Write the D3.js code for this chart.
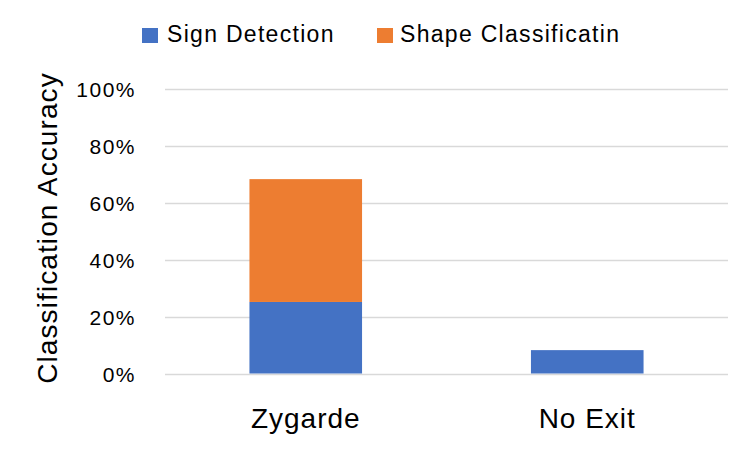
<!DOCTYPE html>
<html>
<head>
<meta charset="utf-8">
<script src="https://cdn.jsdelivr.net/npm/d3@7"></script>
<style>
  html, body { margin: 0; padding: 0; background: #fff; }
  text { font-family: "Liberation Sans", Arial, sans-serif; fill: #000; }
</style>
</head>
<body>
<svg id="chart" width="750" height="450"></svg>
<script>
const categories = ["Zygarde", "No Exit"];
const seriesNames = ["Sign Detection", "Shape Classificatin"];
const signDetection = [0.251, 0.082];
const shapeClassification = [0.431, 0];
const yTicks = [0, 0.2, 0.4, 0.6, 0.8, 1.0];
const colors = ["#4472C4", "#ED7D31"];

const svg = d3.select("#chart");
const margin = { left: 165, right: 22, top: 88.5, bottom: 76.5 };
const W = 750, H = 450;

const x = d3.scaleBand().domain(categories)
  .range([margin.left, W - margin.right])
  .paddingInner(0.6).paddingOuter(0.3);
const y = d3.scaleLinear().domain([0, 1]).range([H - margin.bottom, margin.top]);

// gridlines
svg.append("g").selectAll("line").data(yTicks).join("line")
  .attr("x1", margin.left).attr("x2", W - margin.right)
  .attr("y1", d => Math.round(y(d)) + 0.5).attr("y2", d => Math.round(y(d)) + 0.5)
  .attr("stroke", "#d9d9d9").attr("stroke-width", 1.3);

// y axis labels
const yAxis = d3.axisLeft(y).tickValues(yTicks).tickFormat(d3.format(".0%")).tickSize(0).tickPadding(0);
const ya = svg.append("g").attr("transform", `translate(${margin.left - 29},0)`).call(yAxis);
ya.select(".domain").remove();
ya.selectAll("text").attr("font-size", 21).attr("letter-spacing", 1.5)
  .attr("font-family", "Liberation Sans, Arial, sans-serif").attr("fill", "#000")
  .attr("dy", "0.36em");

// stacked data
const rows = categories.map((c, i) => ({ cat: c, s0: signDetection[i], s1: shapeClassification[i] }));
const stack = d3.stack().keys(["s0", "s1"]);
const stacked = stack(rows);

svg.append("g").selectAll("g").data(stacked).join("g")
  .attr("fill", (d, i) => colors[i])
  .selectAll("rect").data(d => d).join("rect")
  .attr("x", d => x(d.data.cat))
  .attr("width", x.bandwidth())
  .attr("y", d => y(d[1]))
  .attr("height", d => Math.max(0, y(d[0]) - y(d[1])));

// x labels
const xAxis = d3.axisBottom(x).tickSize(0).tickPadding(0);
const xa = svg.append("g").attr("transform", `translate(0,428)`).call(xAxis);
xa.select(".domain").remove();
xa.selectAll("text").attr("font-size", 28).attr("letter-spacing", 1)
  .attr("font-family", "Liberation Sans, Arial, sans-serif").attr("fill", "#000")
  .attr("dy", 0);

// y title
svg.append("text")
  .attr("transform", `translate(57,228) rotate(-90)`)
  .attr("text-anchor", "middle")
  .attr("font-size", 28).attr("letter-spacing", 1.1)
  .text("Classification Accuracy");

// legend
const legendX = [142, 377];
const lg = svg.append("g").selectAll("g").data(seriesNames).join("g")
  .attr("transform", (d, i) => `translate(${legendX[i]},28)`);
lg.append("rect").attr("width", 16).attr("height", 15).attr("fill", (d, i) => colors[i]);
lg.append("text").attr("x", (d, i) => i === 0 ? 25 : 23).attr("y", 14)
  .attr("font-size", 23).attr("letter-spacing", 1.3).text(d => d);
</script>
</body>
</html>
